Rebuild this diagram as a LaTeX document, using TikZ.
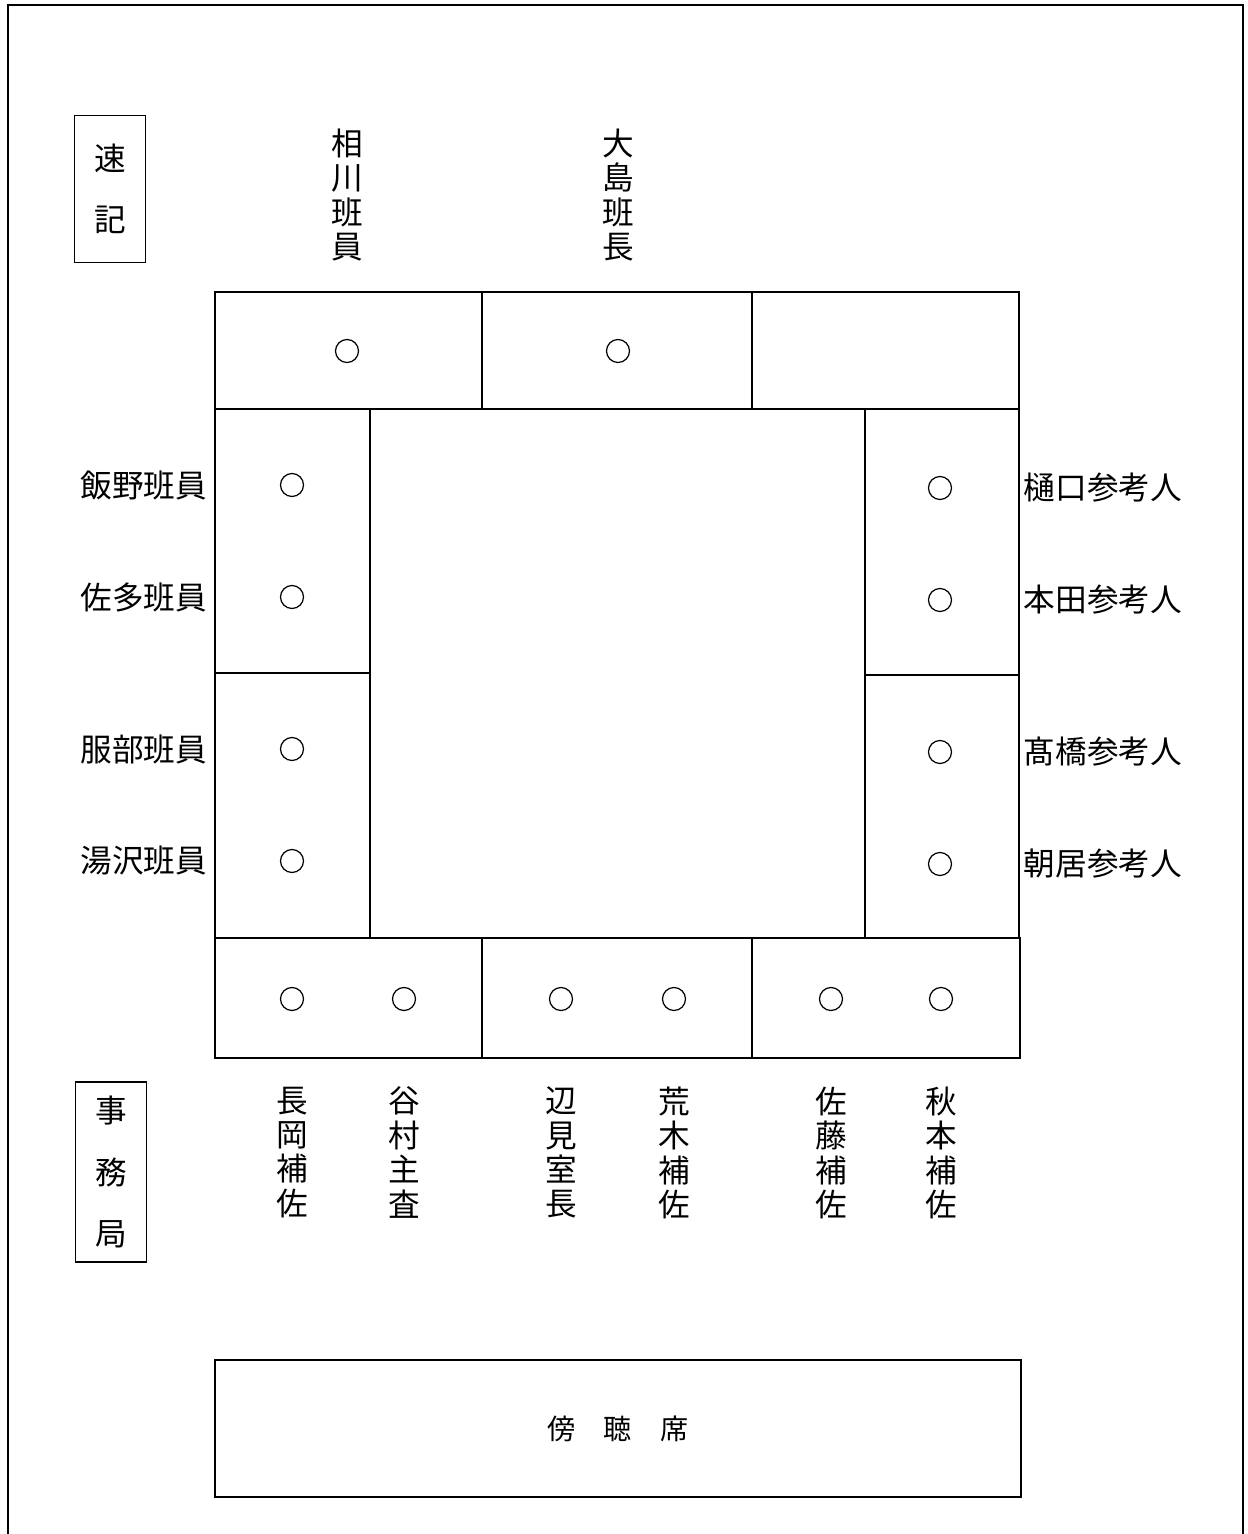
\documentclass[tikz,border=0pt]{standalone}
\usepackage{fontspec}
\usetikzlibrary{positioning}
\newfontfamily\cjk{Noto Sans CJK JP}
\begin{document}
\begin{tikzpicture}[x=0.02cm,y=-0.02cm,line width=0.8pt,
 seat/.style={circle,draw,minimum size=0.46cm,inner sep=0pt,line width=0.7pt},
 person/.style={font=\cjk\fontsize{18}{19.6}\selectfont,inner sep=0pt,align=center},
 sidebox/.style={draw,font=\cjk\fontsize{18}{35}\selectfont,align=center,minimum width=1.42cm,inner sep=0pt}]
\useasboundingbox (0,0) rectangle (1247,1534);
\draw (8,1534) -- (8,5) -- (1243,5) -- (1243,1534);
\node [sidebox,minimum height=2.94cm] (sokki) at (110,189) {速\\記};
\node [sidebox,minimum height=3.6cm] (jimu) at (111,1172) {事\\務\\局};
\draw (215,292) rectangle (1019,409) (482,292) -- (482,409) (752,292) -- (752,409);
\draw (215,409) rectangle (370,938) (215,673) -- (370,673);
\draw (865,409) rectangle (1019,938) (865,675) -- (1019,675);
\draw (215,938) rectangle (1020,1058) (482,938) -- (482,1058) (752,938) -- (752,1058);
\node [seat] (aikawa) at (347,351) {};
\node [seat] (oshima) at (618,351) {};
\node [person,anchor=south] (aikawalbl) at (347,262) {相\\川\\班\\員};
\node [person,anchor=south] (oshimalbl) at (618,262) {大\\島\\班\\長};
\node [seat] (iino) at (292,485) {};
\node [seat] (sata) at (292,597) {};
\node [seat] (hattori) at (292,749) {};
\node [seat] (yuzawa) at (292,861) {};
\node [person,left=1.44cm of iino] (iinolbl) {飯野班員};
\node [person,left=1.44cm of sata] (satalbl) {佐多班員};
\node [person,left=1.44cm of hattori] (hattorilbl) {服部班員};
\node [person,left=1.44cm of yuzawa] (yuzawalbl) {湯沢班員};
\node [seat] (higuchi) at (940,488) {};
\node [seat] (honda) at (940,600) {};
\node [seat] (takahashi) at (940,752) {};
\node [seat] (asai) at (940,864) {};
\node [person,right=1.42cm of higuchi] (higuchilbl) {樋口参考人};
\node [person,right=1.42cm of honda] (hondalbl) {本田参考人};
\node [person,right=1.42cm of takahashi] (takahashilbl) {髙橋参考人};
\node [person,right=1.42cm of asai] (asailbl) {朝居参考人};
\node [seat] (nagaoka) at (292,999) {};
\node [seat] (tanimura) at (404,999) {};
\node [seat] (hemi) at (561,999) {};
\node [seat] (araki) at (674,999) {};
\node [seat] (sato) at (831,999) {};
\node [seat] (akimoto) at (941,999) {};
\node [person,below=1.5cm of nagaoka] (nagaokalbl) {長\\岡\\補\\佐};
\node [person,below=1.5cm of tanimura] (tanimuralbl) {谷\\村\\主\\査};
\node [person,below=1.5cm of hemi] (hemilbl) {辺\\見\\室\\長};
\node [person,below=1.5cm of araki] (arakilbl) {荒\\木\\補\\佐};
\node [person,below=1.5cm of sato] (satolbl) {佐\\藤\\補\\佐};
\node [person,below=1.5cm of akimoto] (akimotolbl) {秋\\本\\補\\佐};
\node [draw,minimum width=16.12cm,minimum height=2.74cm,font=\cjk\fontsize{16}{18}\selectfont] (bocho) at (618,1428.5) {傍　聴　席};
\end{tikzpicture}
\end{document}
